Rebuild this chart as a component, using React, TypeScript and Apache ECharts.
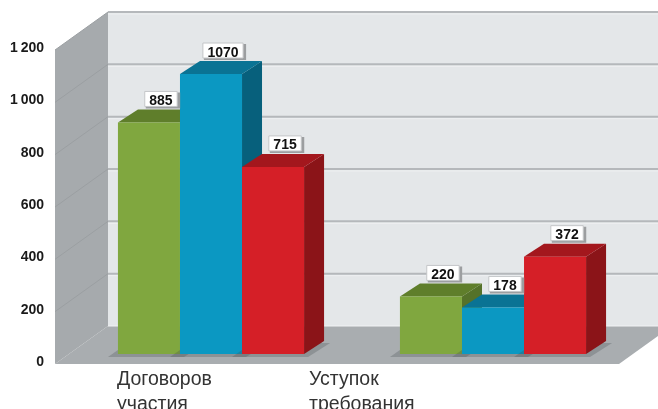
import React, { useEffect, useRef } from 'react';
import * as echarts from 'echarts';

const categories = ['Договоров\nучастия', 'Уступок\nтребования'];
const greenValues = [885, 220];
const blueValues = [1070, 178];
const redValues = [715, 372];
const yTicks = [0, 200, 400, 600, 800, 1000, 1200];

const seriesValues = [greenValues, blueValues, redValues];
const COLORS = [
  { front: '#80a73f', top: '#5f7e2b', side: '#55722a' },
  { front: '#0b98c2', top: '#0a7394', side: '#07607c' },
  { front: '#d51f27', top: '#a3171d', side: '#8b1418' },
];
const FRONT = [-15, 10];
const BACK = [38, -28];
const DEPTH = [20, -13];
const BAR_FRAC = 0.22;
const LABEL_SHIFT = [-94, -184];
const FONT = '"Liberation Sans", Arial, Helvetica, sans-serif';

function fmt(v: number): string {
  if (v >= 1000) return Math.floor(v / 1000) + '\u2009' + String(v % 1000).padStart(3, '0');
  return String(v);
}

function barGeom(api: any, cat: number, value: number, idx: number) {
  const base = api.coord([cat, 0]);
  const top = api.coord([cat, value]);
  const band = api.size([1, 0])[0];
  const w = band * BAR_FRAC;
  const x0 = base[0] - 1.5 * w + idx * w;
  return { x0, x1: x0 + w, yT: top[1], yB: base[1], w };
}

export default function App() {
  const ref = useRef<HTMLDivElement>(null);
  useEffect(() => {
    const chart = echarts.init(ref.current!, null, { renderer: 'svg' });

    const wallsSeries = {
      type: 'custom',
      silent: true,
      clip: false,
      z: 1,
      data: [[0, 0]],
      encode: { x: 0, y: 1 },
      renderItem: (params: any, api: any) => {
        const cs = params.coordSys;
        const x0 = cs.x;
        const x1 = cs.x + cs.width;
        const yv = (v: number) => api.coord([0, v])[1];
        const yTop = yv(yTicks[yTicks.length - 1]);
        const yBot = yv(0);
        const children: any[] = [];
        children.push({
          type: 'rect',
          shape: { x: x0 + BACK[0], y: yTop + BACK[1], width: x1 - x0 + 60, height: yBot - yTop },
          style: { fill: '#e4e7e9' },
        });
        children.push({
          type: 'polygon',
          shape: {
            points: [
              [x0 + FRONT[0], yBot + FRONT[1]],
              [x1 + FRONT[0], yBot + FRONT[1]],
              [x1 + BACK[0], yBot + BACK[1]],
              [x0 + BACK[0], yBot + BACK[1]],
            ],
          },
          style: { fill: '#a9adb0' },
        });
        children.push({
          type: 'polygon',
          shape: {
            points: [
              [x0 + FRONT[0], yTop + FRONT[1]],
              [x0 + BACK[0], yTop + BACK[1]],
              [x0 + BACK[0], yBot + BACK[1]],
              [x0 + FRONT[0], yBot + FRONT[1]],
            ],
          },
          style: { fill: '#a6aaad' },
        });
        yTicks.forEach((t) => {
          const y = yv(t);
          if (t > 0) {
            children.push({
              type: 'line',
              shape: { x1: x0 + BACK[0], y1: y + BACK[1], x2: x1 + BACK[0] + 60, y2: y + BACK[1] },
              style: { stroke: '#b5b8bb', lineWidth: 2 },
            });
            children.push({
              type: 'line',
              shape: { x1: x0 + BACK[0], y1: y + BACK[1] + 2, x2: x1 + BACK[0] + 60, y2: y + BACK[1] + 2 },
              style: { stroke: '#eef0f1', lineWidth: 1 },
            });
            children.push({
              type: 'line',
              shape: { x1: x0 + FRONT[0], y1: y + FRONT[1], x2: x0 + BACK[0], y2: y + BACK[1] },
              style: { stroke: '#9b9fa2', lineWidth: 1 },
            });
          } else {
            children.push({
              type: 'line',
              shape: { x1: x0 + BACK[0], y1: y + BACK[1], x2: x1 + BACK[0] + 60, y2: y + BACK[1] },
              style: { stroke: '#f2f3f4', lineWidth: 1 },
            });
          }
        });
        return { type: 'group', children };
      },
    };

    const barSeries = seriesValues.map((vals, si) => ({
      type: 'custom',
      silent: true,
      clip: false,
      z: 2 + si,
      data: vals.map((v, c) => [c, v]),
      encode: { x: 0, y: 1 },
      renderItem: (params: any, api: any) => {
        const cat = api.value(0);
        const val = api.value(1);
        const g = barGeom(api, cat, val, si);
        const c = COLORS[si];
        const dx = DEPTH[0];
        const dy = DEPTH[1];
        return {
          type: 'group',
          children: [
            {
              type: 'polygon',
              shape: {
                points: [
                  [g.x0 - 10, g.yB + 3],
                  [g.x1 + 4, g.yB + 3],
                  [g.x1 + dx + 6, g.yB + dy + 2],
                  [g.x0 + dx - 10, g.yB + dy + 2],
                ],
              },
              style: { fill: 'rgba(70,74,78,0.28)' },
            },
            {
              type: 'polygon',
              shape: {
                points: [
                  [g.x1, g.yT],
                  [g.x1 + dx, g.yT + dy],
                  [g.x1 + dx, g.yB + dy],
                  [g.x1, g.yB],
                ],
              },
              style: { fill: c.side },
            },
            {
              type: 'polygon',
              shape: {
                points: [
                  [g.x0, g.yT],
                  [g.x1, g.yT],
                  [g.x1 + dx, g.yT + dy],
                  [g.x0 + dx, g.yT + dy],
                ],
              },
              style: { fill: c.top },
            },
            {
              type: 'rect',
              shape: { x: g.x0, y: g.yT, width: g.w, height: g.yB - g.yT },
              style: { fill: c.front },
            },
          ],
        };
      },
    }));

    const labelSeries = {
      type: 'custom',
      silent: true,
      clip: false,
      z: 10,
      data: categories.map((_, c) => [c, 0]),
      encode: { x: 0, y: 1 },
      renderItem: (params: any, api: any) => {
        const cat = api.value(0);
        const children: any[] = [];
        seriesValues.forEach((vals, si) => {
          const v = vals[cat];
          const g = barGeom(api, cat, v, si);
          const text = String(v);
          const bw = text.length * 7.8 + 9;
          const bh = 15;
          const cx = (g.x0 + g.x1) / 2 + 12;
          const bottom = g.yT + DEPTH[1] - 3;
          const bx = cx - bw / 2;
          const by = bottom - bh;
          children.push({
            type: 'rect',
            shape: { x: bx + 1, y: by + 1, width: bw + 2, height: bh + 1 },
            style: { fill: '#9c9ea0' },
          });
          children.push({
            type: 'rect',
            shape: { x: bx, y: by, width: bw, height: bh },
            style: { fill: '#ffffff', stroke: '#c4c6c8', lineWidth: 1 },
          });
          children.push({
            type: 'text',
            style: {
              text,
              x: cx,
              y: by + bh / 2 + 1,
              align: 'center',
              verticalAlign: 'middle',
              fontSize: 14,
              fontWeight: 'bold',
              fontFamily: FONT,
              fill: '#111111',
            },
          });
        });
        const base = api.coord([cat, 0]);
        children.push({
          type: 'text',
          style: {
            text: categories[cat],
            x: base[0] + LABEL_SHIFT[cat],
            y: base[1] + 11,
            align: 'left',
            verticalAlign: 'top',
            fontSize: 19.5,
            lineHeight: 25,
            fontFamily: FONT,
            fill: '#333333',
          },
        });
        return { type: 'group', children };
      },
    };

    chart.setOption({
      animation: false,
      grid: { left: 70, right: 24, top: 40, bottom: 55, containLabel: false },
      xAxis: {
        type: 'category',
        data: categories,
        axisLine: { show: false },
        axisTick: { show: false },
        axisLabel: { show: false },
        splitLine: { show: false },
      },
      yAxis: {
        type: 'value',
        min: 0,
        max: 1200,
        interval: 200,
        axisLine: { show: false },
        axisTick: { show: false },
        splitLine: { show: false },
        axisLabel: {
          margin: 26,
          fontSize: 14,
          lineHeight: 14,
          fontWeight: 'bold',
          fontFamily: FONT,
          color: '#1a1a1a',
          verticalAlign: 'top',
          formatter: (v: number) => fmt(v),
        },
      },
      series: [wallsSeries, ...barSeries, labelSeries],
    });
    return () => chart.dispose();
  }, []);
  return <div ref={ref} style={{ position: 'fixed', left: 0, top: 0, width: 658, height: 409 }} />;
}
